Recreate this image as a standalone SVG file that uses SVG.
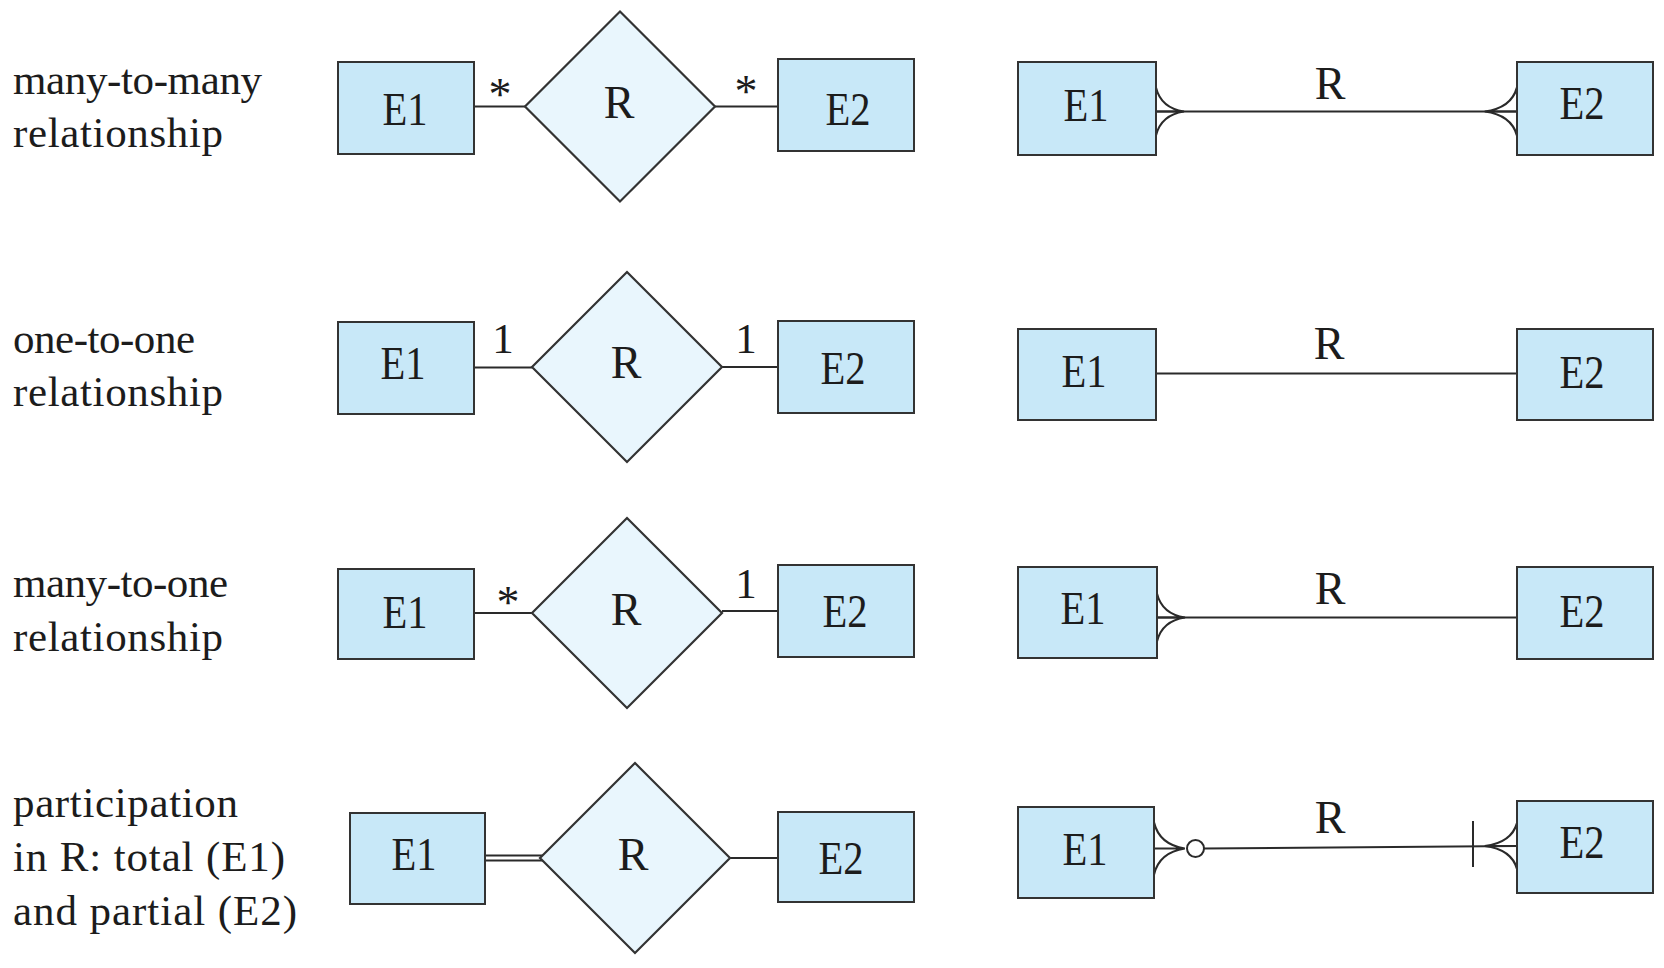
<svg xmlns="http://www.w3.org/2000/svg" xmlns:xlink="http://www.w3.org/1999/xlink" width="1664" height="968" viewBox="0 0 1664 968">
  <style>
    text { font-family: "Liberation Serif", "Times New Roman", serif; fill: #1c1c1c; }
    .cap { font-size: 43px; }
    .ent { fill: #c8e8f8; stroke: #333; stroke-width: 2; }
    .rel { fill: #e9f6fd; stroke: #333; stroke-width: 2.2; stroke-linejoin: miter; }
    .name { font-size: 46px; text-anchor: middle; }
    .card { font-size: 43px; text-anchor: middle; }
    .star { font-size: 46px; text-anchor: middle; }
    .ln { fill: none; stroke: #2a2a2a; stroke-width: 2; }
    .foot { fill: none; stroke: #2a2a2a; stroke-width: 2; }
  </style>
  <defs>
    <!-- crow's foot, entity edge at x=0, pointing right -->
    <path id="crow" class="foot" d="M0,-24 Q5,-3.5 28,0 Q5,3.5 0,24 M0,0 H28"/>
  </defs>
  <rect width="1664" height="968" fill="#ffffff"/>

  <!-- captions on the left -->
  <g id="caption-m2m" class="cap">
    <text x="13" y="94" textLength="249">many-to-many</text>
    <text x="13" y="147" textLength="210">relationship</text>
  </g>
  <g id="caption-1to1" class="cap">
    <text x="13" y="353" textLength="182">one-to-one</text>
    <text x="13" y="406" textLength="210">relationship</text>
  </g>
  <g id="caption-m2o" class="cap">
    <text x="13" y="597" textLength="215">many-to-one</text>
    <text x="13" y="651" textLength="210">relationship</text>
  </g>
  <g id="caption-part" class="cap">
    <text x="13" y="817" textLength="225">participation</text>
    <text x="13" y="871" textLength="272">in R: total (E1)</text>
    <text x="13" y="925" textLength="284">and partial (E2)</text>
  </g>

  <!-- connectors -->
  <g id="connectors">
    <!-- row 1, chen -->
    <path class="ln" d="M474,106.5 H525 M715,106.5 H778"/>
    <text class="star" x="500" y="110">*</text>
    <text class="star" x="746" y="107">*</text>
    <!-- row 2, chen -->
    <path class="ln" d="M474,367.5 H532 M722,367 H778"/>
    <text class="card" x="503" y="353">1</text>
    <text class="card" x="746" y="353">1</text>
    <!-- row 3, chen -->
    <path class="ln" d="M474,613 H532 M722,611 H778"/>
    <text class="star" x="508" y="618">*</text>
    <text class="card" x="746" y="598">1</text>
    <!-- row 4, chen: double line = total participation -->
    <path class="ln" d="M485,855.5 H543 M485,860.5 H543 M730,858 H778"/>

    <!-- row 1, crow's foot -->
    <path class="ln" d="M1156,111.5 H1517"/>
    <use xlink:href="#crow" transform="translate(1156,111.5)"/>
    <use xlink:href="#crow" transform="translate(1517,111.5) scale(-1.15,1)"/>
    <text class="name" x="1330" y="99">R</text>
    <!-- row 2, crow's foot -->
    <path class="ln" d="M1156,373.5 H1517"/>
    <text class="name" x="1329" y="359">R</text>
    <!-- row 3, crow's foot -->
    <path class="ln" d="M1157,617.5 H1517"/>
    <use xlink:href="#crow" transform="translate(1157,617.5)"/>
    <text class="name" x="1330" y="604">R</text>
    <!-- row 4, crow's foot: zero-or-many on E1, one-or-many on E2 -->
    <use xlink:href="#crow" transform="translate(1154,848.5) scale(1.1,1.08)"/>
    <circle cx="1195.5" cy="848.5" r="8.5" fill="#ffffff" stroke="#2a2a2a" stroke-width="2"/>
    <path class="ln" d="M1204,848.5 L1517,846"/>
    <path class="ln" d="M1473,821 V867"/>
    <use xlink:href="#crow" transform="translate(1517,846) scale(-1.15,0.95)"/>
    <text class="name" x="1330" y="833">R</text>
  </g>

  <!-- row 1 nodes -->
  <g id="r1-e1"><rect class="ent" x="338" y="62" width="136" height="92"/><text class="name" x="405" y="125" textLength="45" lengthAdjust="spacingAndGlyphs">E1</text></g>
  <g id="r1-r"><polygon class="rel" points="620,11.5 715,106.5 620,201.5 525,106.5"/><text class="name" x="619" y="118">R</text></g>
  <g id="r1-e2"><rect class="ent" x="778" y="59" width="136" height="92"/><text class="name" x="848" y="125" textLength="45" lengthAdjust="spacingAndGlyphs">E2</text></g>
  <g id="r1-cf-e1"><rect class="ent" x="1018" y="62" width="138" height="93"/><text class="name" x="1086" y="121" textLength="45" lengthAdjust="spacingAndGlyphs">E1</text></g>
  <g id="r1-cf-e2"><rect class="ent" x="1517" y="62" width="136" height="93"/><text class="name" x="1582" y="119" textLength="45" lengthAdjust="spacingAndGlyphs">E2</text></g>

  <!-- row 2 nodes -->
  <g id="r2-e1"><rect class="ent" x="338" y="322" width="136" height="92"/><text class="name" x="403" y="379" textLength="45" lengthAdjust="spacingAndGlyphs">E1</text></g>
  <g id="r2-r"><polygon class="rel" points="627,272 722,367 627,462 532,367"/><text class="name" x="626" y="378">R</text></g>
  <g id="r2-e2"><rect class="ent" x="778" y="321" width="136" height="92"/><text class="name" x="843" y="384" textLength="45" lengthAdjust="spacingAndGlyphs">E2</text></g>
  <g id="r2-cf-e1"><rect class="ent" x="1018" y="329" width="138" height="91"/><text class="name" x="1084" y="387" textLength="45" lengthAdjust="spacingAndGlyphs">E1</text></g>
  <g id="r2-cf-e2"><rect class="ent" x="1517" y="329" width="136" height="91"/><text class="name" x="1582" y="388" textLength="45" lengthAdjust="spacingAndGlyphs">E2</text></g>

  <!-- row 3 nodes -->
  <g id="r3-e1"><rect class="ent" x="338" y="569" width="136" height="90"/><text class="name" x="405" y="628" textLength="45" lengthAdjust="spacingAndGlyphs">E1</text></g>
  <g id="r3-r"><polygon class="rel" points="627,518 722,613 627,708 532,613"/><text class="name" x="626" y="625">R</text></g>
  <g id="r3-e2"><rect class="ent" x="778" y="565" width="136" height="92"/><text class="name" x="845" y="627" textLength="45" lengthAdjust="spacingAndGlyphs">E2</text></g>
  <g id="r3-cf-e1"><rect class="ent" x="1018" y="567" width="139" height="91"/><text class="name" x="1083" y="624" textLength="45" lengthAdjust="spacingAndGlyphs">E1</text></g>
  <g id="r3-cf-e2"><rect class="ent" x="1517" y="567" width="136" height="92"/><text class="name" x="1582" y="627" textLength="45" lengthAdjust="spacingAndGlyphs">E2</text></g>

  <!-- row 4 nodes -->
  <g id="r4-e1"><rect class="ent" x="350" y="813" width="135" height="91"/><text class="name" x="414" y="870" textLength="45" lengthAdjust="spacingAndGlyphs">E1</text></g>
  <g id="r4-r"><polygon class="rel" points="635,763 730,858 635,953 540,858"/><text class="name" x="633" y="870">R</text></g>
  <g id="r4-e2"><rect class="ent" x="778" y="812" width="136" height="90"/><text class="name" x="841" y="874" textLength="45" lengthAdjust="spacingAndGlyphs">E2</text></g>
  <g id="r4-cf-e1"><rect class="ent" x="1018" y="807" width="136" height="91"/><text class="name" x="1085" y="865" textLength="45" lengthAdjust="spacingAndGlyphs">E1</text></g>
  <g id="r4-cf-e2"><rect class="ent" x="1517" y="801" width="136" height="92"/><text class="name" x="1582" y="858" textLength="45" lengthAdjust="spacingAndGlyphs">E2</text></g>
</svg>
